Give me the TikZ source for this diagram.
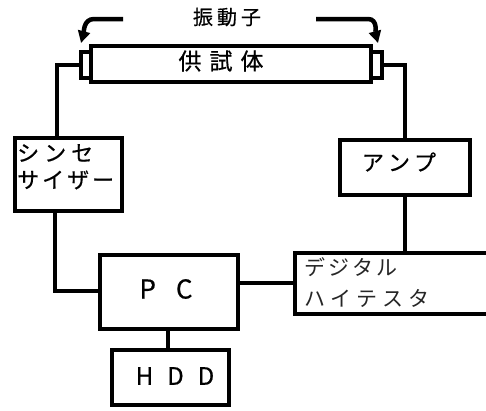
\documentclass[tikz,border=0pt]{standalone}
\usepackage{fontspec}
\newfontfamily\jp[FakeBold=0.6]{Noto Sans CJK JP}
\newfontfamily\jpl{Noto Sans CJK JP}
\usetikzlibrary{arrows.meta}
\newcommand\lsp[1]{\hspace{#1pt}}
\tikzset{
  box/.style={draw, line width=4pt, rectangle, inner sep=0pt, fill=white},
  conn/.style={line width=4pt},
  pointer/.style={line width=4.5pt, -{Triangle[length=12pt,width=12pt]}},
  lbl/.style={inner sep=0pt, font=\jp\fontsize{22}{22}\selectfont},
}
\begin{document}
\begin{tikzpicture}[x=1pt,y=-1pt]
\useasboundingbox (0,0) rectangle (486,410);
\clip (0,0) rectangle (486,410);
\fill[white] (0,0) rectangle (486,410);
% specimen bar and vibrators
\node[box, minimum width=280pt, minimum height=36pt] (bar) at (231,64) {};
\node[box, minimum width=10pt, minimum height=26pt] (vl) at (86,65) {};
\node[box, minimum width=11pt, minimum height=26pt] (vr) at (376.5,65) {};
\node[lbl, font=\jp\fontsize{23}{23}\selectfont] (barlbl) at (221,61) {供\lsp{8}試\lsp{8}体};
% vibrator label and arrows
\node[lbl, font=\jp\fontsize{20}{20}\selectfont] (vlbl) at (227,17) {振\lsp{4}動\lsp{4}子};
\coordinate (la) at (123,19);
\coordinate (lb) at (94,19);
\coordinate (lt) at (81,43);
\coordinate (ra) at (316,19);
\coordinate (rb) at (368,19);
\coordinate (rt) at (378,43);
\draw[pointer] (la) -- (lb) to[out=180,in=75] (lt);
\draw[pointer] (ra) -- (rb) to[out=0,in=105] (rt);
% boxes
\node[box, minimum width=107pt, minimum height=73pt] (synth) at (68,174.5) {};
\node[lbl, anchor=west] (s1) at (17,153) {シ\lsp{5}ン\lsp{5}セ};
\node[lbl, anchor=west] (s2) at (17,180) {サ\lsp{3}イ\lsp{3}ザ\lsp{3}ー};
\node[box, minimum width=130pt, minimum height=55pt] (amp) at (405,167.5) {};
\node[lbl] (alb) at (399,162) {ア\lsp{4}ン\lsp{4}プ};
\node[box, minimum width=138pt, minimum height=74pt] (pc) at (169,292) {};
\node[lbl, font=\jp\fontsize{26}{26}\selectfont] (pclbl) at (166,289) {P\lsp{20}C};
\node[box, minimum width=117pt, minimum height=55pt] (hdd) at (170.5,377.5) {};
\node[lbl, font=\jp\fontsize{24}{24}\selectfont] (hddlbl) at (175,376) {H\lsp{14}D\lsp{14}D};
\node[box, minimum width=225pt, minimum height=61pt] (dig) at (407.5,283.5) {};
\node[lbl, anchor=west, text=black!85, font=\jpl\fontsize{21}{21}\selectfont] (d1) at (304,267) {デ\lsp{3}ジ\lsp{3}タ\lsp{3}ル};
\node[lbl, anchor=west, text=black!85, font=\jpl\fontsize{21}{21}\selectfont] (d2) at (304,298) {ハ\lsp{5}イ\lsp{5}テ\lsp{5}ス\lsp{5}タ};
% connectors
\draw[conn] (vl.west) -| ([xshift=-11pt]synth.north);
\draw[conn] (vr.east) -| (amp.north);
\draw[conn] ([xshift=-13pt]synth.south) |- ([yshift=1pt]pc.west);
\draw[conn] ([xshift=-1pt]pc.south) -- ([xshift=-1pt]pc.south |- hdd.north);
\draw[conn] (amp.south) -- (amp.south |- dig.north);
\draw[conn] ([yshift=9pt]pc.east) -- ([yshift=9pt]pc.east -| dig.west);
\end{tikzpicture}
\end{document}
